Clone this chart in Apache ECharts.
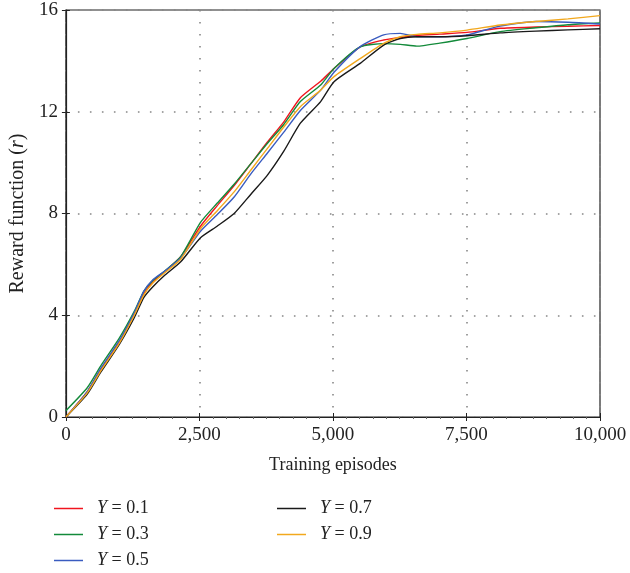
<!DOCTYPE html>
<html>
<head>
    <meta charset="UTF-8">
    <title>Reward function</title>
    <style>
        html, body { margin: 0; padding: 0; background: #fff; }
        #main { width: 630px; height: 573px; }
    </style>
</head>
<body>
<div id="main"></div>
<script src="https://cdn.jsdelivr.net/npm/echarts@6/dist/echarts.min.js"></script>
<script>
    var episodes = [0, 400, 650, 1000, 1280, 1460, 1620, 1840, 2150, 2520, 2830, 3150, 3460, 3770, 4080, 4390, 4770, 5020, 5510, 5950, 6260, 6570, 7000, 7510, 8130, 8800, 9400, 10000];

    var y01 = [0, 1.0, 1.85, 2.95, 4.05, 4.85, 5.3, 5.7, 6.3, 7.5, 8.3, 9.1, 9.95, 10.8, 11.6, 12.55, 13.2, 13.7, 14.55, 14.82, 14.92, 15.0, 15.05, 15.12, 15.28, 15.33, 15.36, 15.39];
    var y03 = [0.25, 1.15, 2.0, 3.1, 4.15, 4.95, 5.35, 5.72, 6.3, 7.65, 8.4, 9.15, 9.95, 10.75, 11.5, 12.4, 13.05, 13.7, 14.55, 14.68, 14.65, 14.58, 14.7, 14.88, 15.15, 15.3, 15.42, 15.49];
    var y05 = [0, 1.0, 1.9, 3.0, 4.1, 4.95, 5.38, 5.72, 6.25, 7.3, 7.95, 8.65, 9.55, 10.37, 11.2, 12.05, 12.85, 13.55, 14.56, 15.02, 15.08, 14.95, 14.95, 15.02, 15.37, 15.55, 15.52, 15.45];
    var y07 = [0, 0.9, 1.75, 2.85, 3.9, 4.7, 5.1, 5.55, 6.1, 7.05, 7.5, 8.0, 8.75, 9.5, 10.45, 11.55, 12.4, 13.18, 13.9, 14.62, 14.88, 14.95, 14.95, 14.99, 15.1, 15.17, 15.22, 15.26];
    var y09 = [0, 0.95, 1.8, 2.9, 4.0, 4.8, 5.25, 5.65, 6.2, 7.4, 8.1, 8.85, 9.7, 10.55, 11.4, 12.2, 12.85, 13.38, 14.09, 14.69, 14.95, 15.04, 15.1, 15.21, 15.41, 15.55, 15.65, 15.78];

    var names = ['Y = 0.1', 'Y = 0.3', 'Y = 0.5', 'Y = 0.7', 'Y = 0.9'];
    var colors = ['#f0141e', '#138a3a', '#3a5cc0', '#1a1a1a', '#f2a81d'];
    var values = [y01, y03, y05, y07, y09];

    var xTicks = [0, 2500, 5000, 7500, 10000];
    var yTicks = [0, 4, 8, 12, 16];

    var FONT = '"Liberation Serif", "DejaVu Serif", serif';

    function pairs(ys) {
        var out = [];
        for (var i = 0; i < episodes.length; i++) {
            out.push([episodes[i], ys[i]]);
        }
        return out;
    }

    var series = [];
    for (var k = 0; k < names.length; k++) {
        series.push({
            name: names[k],
            type: 'line',
            data: pairs(values[k]),
            showSymbol: false,
            smooth: 0.2,
            lineStyle: { color: colors[k], width: 1.4 },
            itemStyle: { color: colors[k] }
        });
    }

    var legendText = {
        fontFamily: FONT,
        fontSize: 18,
        lineHeight: 21,
        color: '#222',
        padding: [0, 0, 0, 9],
        rich: {
            i: { fontFamily: FONT, fontSize: 18, lineHeight: 21, fontStyle: 'italic', color: '#222' }
        }
    };
    function legendFmt(name) {
        return '{i|Y}' + name.slice(1);
    }
    var lineIcon = 'path://M0,5 L29,5 L29,6.5 L0,6.5 Z';

    var myChart = echarts.init(document.getElementById('main'));
    var option = {
        animation: false,
        grid: {
            left: 65, right: 30, top: 10, bottom: 156,
            show: true, borderColor: '#222', borderWidth: 1.2
        },
        legend: [
            {
                data: names.slice(0, 3),
                orient: 'vertical',
                left: 54, top: 498, padding: 0, height: 75,
                itemWidth: 29, itemHeight: 12, itemGap: 5,
                icon: lineIcon,
                textStyle: legendText,
                formatter: legendFmt
            },
            {
                data: names.slice(3),
                orient: 'vertical',
                left: 277, top: 498, padding: 0, height: 75,
                itemWidth: 29, itemHeight: 12, itemGap: 5,
                icon: lineIcon,
                textStyle: legendText,
                formatter: legendFmt
            }
        ],
        xAxis: [
            {
                type: 'value',
                min: 0, max: 10000, interval: 2500,
                name: 'Training episodes',
                nameLocation: 'middle',
                nameGap: 39,
                nameTextStyle: { fontFamily: FONT, fontSize: 18, color: '#222' },
                axisLine: { show: true, lineStyle: { color: '#222', width: 1.2 } },
                axisTick: { show: true, inside: true, length: 4, lineStyle: { color: '#222' } },
                axisLabel: {
                    fontFamily: FONT, fontSize: 19, color: '#222', margin: 9,
                    formatter: function (v) {
                        return xTicks.indexOf(v) >= 0 ? v.toLocaleString('en-US') : '';
                    }
                },
                splitLine: { show: true, lineStyle: { color: '#888', width: 1.6, type: [1.6, 10.4] } }
            },
            {
                type: 'value',
                position: 'top',
                min: 0, max: 10000, interval: 2500,
                axisLine: { show: false },
                axisTick: { show: true, inside: true, length: 4, lineStyle: { color: '#222' } },
                minorTick: { show: true, splitNumber: 10, length: 2, lineStyle: { color: '#666' } },
                axisLabel: { show: false },
                splitLine: { show: false }
            }
        ],
        yAxis: [
            {
                type: 'value',
                min: 0, max: 16, interval: 4,
                name: 'Reward function ({i|r})',
                nameLocation: 'middle',
                nameGap: 37,
                nameTextStyle: {
                    fontFamily: FONT, fontSize: 20, color: '#222',
                    rich: { i: { fontFamily: FONT, fontSize: 20, fontStyle: 'italic', color: '#222' } }
                },
                axisLine: { show: true, lineStyle: { color: '#222', width: 1.2 } },
                axisTick: { show: true, inside: true, length: 4, lineStyle: { color: '#222' } },
                axisLabel: {
                    fontFamily: FONT, fontSize: 19, color: '#222', margin: 8,
                    formatter: function (v) {
                        return yTicks.indexOf(v) >= 0 ? String(v) : '';
                    }
                },
                splitLine: { show: true, lineStyle: { color: '#888', width: 1.6, type: [1.6, 10.4] } }
            },
            {
                type: 'value',
                position: 'right',
                min: 0, max: 16, interval: 4,
                axisLine: { show: false },
                axisTick: { show: true, inside: true, length: 4, lineStyle: { color: '#222' } },
                axisLabel: { show: false },
                splitLine: { show: false }
            }
        ],
        series: series
    };
    myChart.setOption(option);
</script>
</body>
</html>
